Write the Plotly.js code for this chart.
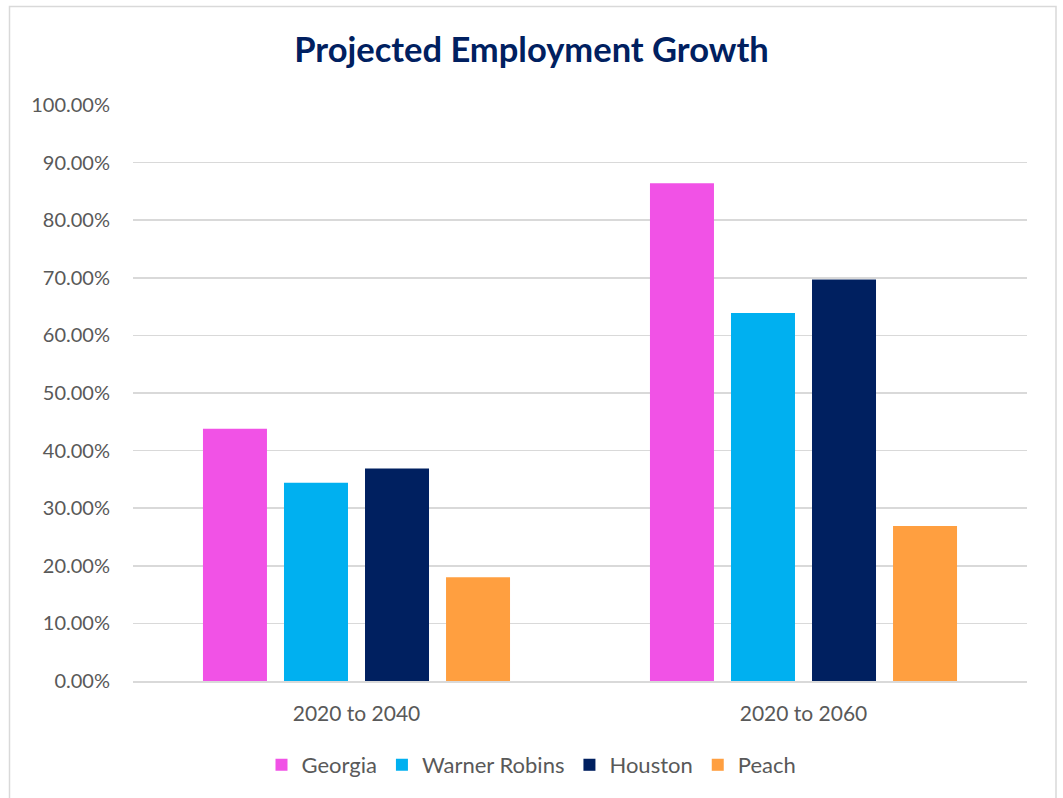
<!DOCTYPE html>
<html>
<head>
<meta charset="utf-8">
<script src="https://cdn.plot.ly/plotly-3.0.1.min.js"></script>
<style>
html,body{margin:0;padding:0;background:#fff;}
#chart{width:1063px;height:798px;}
</style>
</head>
<body>
<div id="chart"></div>
<script>
const categories = ["2020 to 2040", "2020 to 2060"];
const seriesNames = ["Georgia", "Warner Robins", "Houston", "Peach"];
const georgia = [43.8, 86.4];
const warnerRobins = [34.4, 63.9];
const houston = [36.9, 69.7];
const peach = [18.0, 26.9];
const seriesValues = [georgia, warnerRobins, houston, peach];
const seriesColors = ["#F152E6", "#00B0F0", "#002060", "#FF9F40"];
const yTickValues = [0, 10, 20, 30, 40, 50, 60, 70, 80, 90, 100];
const yTickLabels = yTickValues.map(v => v.toFixed(2) + "%");

const traces = seriesNames.map((name, i) => ({
  type: "bar",
  name: name,
  x: categories,
  y: seriesValues[i],
  marker: {color: seriesColors[i], line: {width: 0}},
  hoverinfo: "x+y+name"
}));

const layout = {
  width: 1063,
  height: 798,
  paper_bgcolor: "#ffffff",
  plot_bgcolor: "#ffffff",
  margin: {l: 133, r: 36, t: 105, b: 117, pad: 0},
  font: {family: "Lato, 'Open Sans', sans-serif", color: "#595959", size: 21},
  title: {
    text: "<b>Projected Employment Growth</b>",
    font: {family: "Lato, 'Open Sans', sans-serif", size: 34.5, color: "#002060"},
    x: 0.5, xref: "container", xanchor: "center",
    y: 1 - 50 / 798, yref: "container", yanchor: "middle"
  },
  barmode: "group",
  bargap: 0.275,
  bargroupgap: 0.21,
  xaxis: {
    type: "category",
    showgrid: false,
    showline: true,
    linecolor: "#D9D9D9",
    linewidth: 1.5,
    ticks: "",
    tickfont: {size: 21, color: "#595959"},
    ticklabelstandoff: 13,
    zeroline: false
  },
  yaxis: {
    range: [0, 100],
    tickmode: "array",
    tickvals: yTickValues,
    ticktext: yTickLabels,
    showgrid: true,
    gridcolor: "#D9D9D9",
    gridwidth: 1.5,
    showline: false,
    zeroline: false,
    ticks: "",
    tickfont: {size: 20, color: "#595959"},
    ticklabelstandoff: 22,
    fixedrange: true
  },
  legend: {
    orientation: "h",
    xref: "container",
    x: 0.5,
    xanchor: "center",
    yref: "container",
    y: 1 - 765 / 798,
    yanchor: "middle",
    font: {size: 22, color: "#595959"},
    traceorder: "normal",
    itemclick: false
  },
  shapes: [{
    type: "rect",
    xref: "paper", yref: "paper",
    x0: (9.5 - 133) / 894, x1: (1056 - 133) / 894,
    y0: (681 - 810) / 576, y1: (681 - 6.5) / 576,
    line: {color: "#D9D9D9", width: 1.5},
    fillcolor: "rgba(0,0,0,0)",
    layer: "below"
  }],
  showlegend: true
};

Plotly.newPlot("chart", traces, layout, {displayModeBar: false, staticPlot: true});
</script>
</body>
</html>
